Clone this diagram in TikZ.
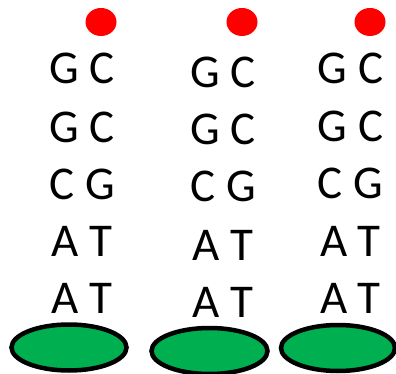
\documentclass[tikz,border=0pt]{standalone}
\usepackage{fontspec}
\setmainfont{Carlito}
\definecolor{capred}{HTML}{FF0000}
\definecolor{basegreen}{HTML}{00B050}
\tikzset{
  pairtext/.style={inner sep=0pt, anchor=center, font=\fontsize{47}{50}\selectfont},
  capdot/.style={fill=capred, draw=none},
  basepad/.style={fill=basegreen, draw=black, line width=4.5pt},
}
\begin{document}
\begin{tikzpicture}[x=1pt,y=-1pt]
\useasboundingbox (0,0) rectangle (396,374);
% red caps on top of each strand
\fill[capdot] (101,22) ellipse [x radius=15.5, y radius=14];
\fill[capdot] (242,22) ellipse [x radius=15.5, y radius=14];
\fill[capdot] (370,22) ellipse [x radius=15.5, y radius=14];
% base pairs, column 1
\node[pairtext] (a1) at (82,68)  {G C};
\node[pairtext] (a2) at (82,127) {G C};
\node[pairtext] (a3) at (82,184) {C G};
\node[pairtext] (a4) at (82,241) {A T};
\node[pairtext] (a5) at (82,298) {A T};
% base pairs, column 2
\node[pairtext] (b1) at (223,72)  {G C};
\node[pairtext] (b2) at (223,129) {G C};
\node[pairtext] (b3) at (223,186) {C G};
\node[pairtext] (b4) at (223,245) {A T};
\node[pairtext] (b5) at (223,302) {A T};
% base pairs, column 3
\node[pairtext] (c1) at (350.5,68)  {G C};
\node[pairtext] (c2) at (350.5,126) {G C};
\node[pairtext] (c3) at (350.5,183) {C G};
\node[pairtext] (c4) at (350.5,241) {A T};
\node[pairtext] (c5) at (350.5,298) {A T};
% green anchors at the bottom
\draw[basepad] (69,347.5) ellipse [x radius=57.5, y radius=23];
\draw[basepad] (209.5,351) ellipse [x radius=58, y radius=23];
\draw[basepad] (338,348) ellipse [x radius=57, y radius=23];
\end{tikzpicture}
\end{document}
